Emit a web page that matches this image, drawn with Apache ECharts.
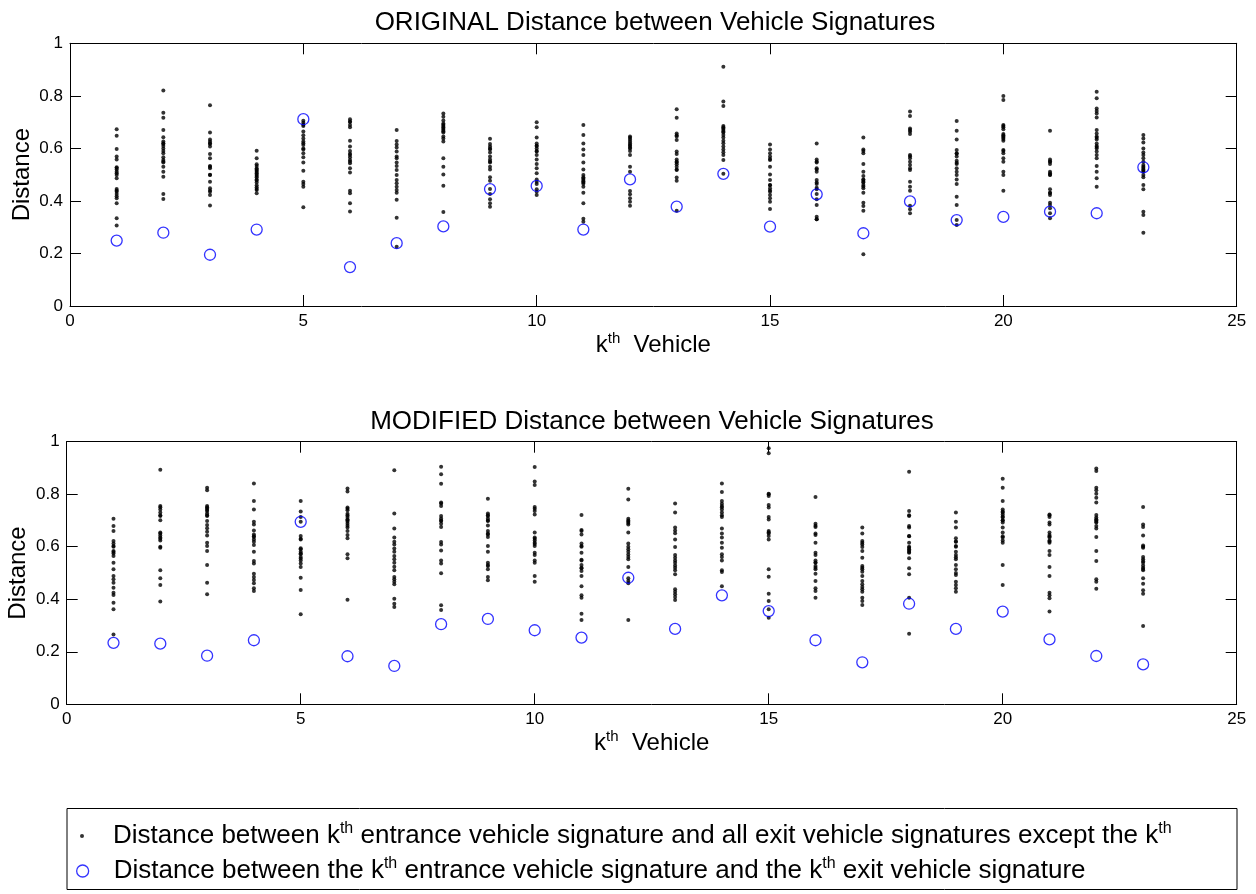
<!DOCTYPE html>
<html>
<head>
<meta charset="utf-8">
<script src="https://cdn.jsdelivr.net/npm/echarts@6/dist/echarts.min.js"></script>
<style>html,body{margin:0;padding:0;background:#fff}#c{width:1256px;height:894px}</style>
</head>
<body>
<div id="c"></div>
<script>
const vehicles = [1,2,3,4,5,6,7,8,9,10,11,12,13,14,15,16,17,18,19,20,21,22,23];
const xTicks = [0,5,10,15,20,25];
const yTicks = [0,0.2,0.4,0.6,0.8,1];

// ORIGINAL: distance between k-th entrance signature and the k-th exit signature
const origSelf = [0.249,0.279,0.195,0.291,0.711,0.148,0.239,0.303,0.445,0.457,0.291,0.482,0.378,0.503,0.302,0.425,0.277,0.398,0.327,0.339,0.359,0.353,0.528];
// ORIGINAL: distances to all other exit signatures
const origOthers = [
 [0.673,0.648,0.598,0.569,0.558,0.528,0.520,0.511,0.499,0.486,0.445,0.435,0.426,0.410,0.391,0.334,0.306,0.525,0.505,0.44,0.418],
 [0.820,0.736,0.717,0.670,0.642,0.626,0.617,0.609,0.600,0.581,0.566,0.556,0.546,0.530,0.511,0.492,0.426,0.407,0.62,0.59,0.55],
 [0.764,0.660,0.634,0.626,0.617,0.607,0.579,0.562,0.533,0.524,0.499,0.473,0.448,0.435,0.423,0.383,0.62,0.53,0.50,0.44],
 [0.591,0.562,0.533,0.524,0.515,0.505,0.495,0.482,0.470,0.452,0.442,0.429,0.51,0.50,0.49,0.46,0.54,0.445,0.52,0.478],
 [0.698,0.685,0.664,0.638,0.626,0.613,0.596,0.581,0.566,0.546,0.515,0.473,0.464,0.454,0.376,0.705,0.69,0.65,0.62,0.60],
 [0.711,0.702,0.689,0.680,0.629,0.607,0.590,0.575,0.566,0.556,0.543,0.524,0.508,0.439,0.429,0.391,0.360,0.70,0.58,0.55],
 [0.670,0.628,0.615,0.603,0.588,0.569,0.562,0.546,0.533,0.518,0.499,0.480,0.467,0.454,0.442,0.431,0.404,0.336,0.226],
 [0.733,0.706,0.695,0.680,0.670,0.660,0.638,0.626,0.562,0.530,0.501,0.458,0.358,0.685,0.675,0.665,0.645,0.72,0.69],
 [0.637,0.617,0.607,0.596,0.584,0.569,0.558,0.546,0.530,0.490,0.477,0.445,0.426,0.406,0.391,0.378,0.60,0.55,0.52],
 [0.699,0.680,0.641,0.619,0.609,0.600,0.588,0.575,0.558,0.541,0.524,0.505,0.482,0.473,0.464,0.444,0.435,0.423,0.61,0.59],
 [0.689,0.651,0.619,0.596,0.575,0.546,0.520,0.499,0.490,0.480,0.470,0.454,0.431,0.391,0.332,0.321,0.485,0.465,0.475],
 [0.645,0.634,0.626,0.613,0.603,0.590,0.575,0.530,0.511,0.438,0.425,0.410,0.397,0.382,0.62,0.60,0.64,0.61],
 [0.749,0.717,0.657,0.645,0.632,0.588,0.579,0.558,0.546,0.530,0.518,0.489,0.477,0.363,0.65,0.55,0.54,0.52],
 [0.911,0.778,0.761,0.685,0.676,0.664,0.651,0.641,0.629,0.607,0.596,0.575,0.556,0.503,0.67,0.66,0.62,0.585,0.68],
 [0.615,0.596,0.581,0.569,0.556,0.530,0.501,0.480,0.461,0.448,0.435,0.423,0.410,0.397,0.369,0.56,0.46,0.44],
 [0.619,0.558,0.546,0.524,0.511,0.480,0.464,0.444,0.426,0.406,0.384,0.340,0.330,0.55,0.52,0.47,0.45,0.33],
 [0.641,0.596,0.581,0.541,0.511,0.495,0.482,0.473,0.461,0.448,0.431,0.393,0.381,0.363,0.197,0.59,0.48,0.47,0.455],
 [0.740,0.723,0.676,0.664,0.655,0.575,0.562,0.549,0.537,0.524,0.518,0.473,0.454,0.439,0.382,0.368,0.353,0.67,0.57],
 [0.704,0.667,0.634,0.594,0.581,0.569,0.553,0.541,0.524,0.511,0.499,0.482,0.464,0.416,0.384,0.327,0.308,0.58,0.545],
 [0.799,0.784,0.689,0.680,0.673,0.655,0.645,0.636,0.629,0.594,0.581,0.562,0.549,0.511,0.499,0.439,0.685,0.65,0.64,0.59],
 [0.667,0.558,0.549,0.541,0.511,0.505,0.499,0.444,0.431,0.423,0.393,0.384,0.372,0.353,0.334,0.55,0.50,0.43],
 [0.816,0.791,0.752,0.742,0.733,0.718,0.670,0.657,0.645,0.634,0.619,0.609,0.600,0.588,0.575,0.562,0.533,0.511,0.486,0.454,0.64,0.605],
 [0.651,0.638,0.622,0.600,0.584,0.575,0.562,0.549,0.537,0.520,0.511,0.499,0.490,0.461,0.444,0.359,0.346,0.279,0.53,0.525,0.515]
];

// MODIFIED: distance between k-th entrance signature and the k-th exit signature
const modSelf = [0.234,0.231,0.185,0.244,0.695,0.183,0.146,0.305,0.325,0.282,0.254,0.482,0.287,0.415,0.355,0.244,0.160,0.383,0.287,0.353,0.247,0.184,0.152];
// MODIFIED: distances to all other exit signatures
const modOthers = [
 [0.707,0.679,0.660,0.622,0.612,0.603,0.584,0.574,0.565,0.539,0.514,0.489,0.476,0.463,0.444,0.425,0.416,0.387,0.362,0.266,0.60,0.58],
 [0.893,0.755,0.742,0.730,0.717,0.701,0.654,0.643,0.635,0.624,0.596,0.510,0.480,0.454,0.391,0.75,0.72,0.65,0.63,0.60],
 [0.825,0.815,0.755,0.746,0.736,0.727,0.717,0.698,0.683,0.670,0.657,0.643,0.615,0.603,0.584,0.530,0.463,0.419,0.75,0.74,0.72],
 [0.841,0.774,0.742,0.695,0.685,0.662,0.647,0.637,0.628,0.619,0.607,0.581,0.546,0.536,0.497,0.485,0.473,0.461,0.442,0.431,0.64],
 [0.774,0.734,0.713,0.695,0.641,0.628,0.594,0.581,0.571,0.561,0.548,0.536,0.523,0.482,0.435,0.343,0.63,0.59,0.575,0.555],
 [0.822,0.810,0.749,0.739,0.726,0.713,0.701,0.688,0.673,0.660,0.645,0.632,0.571,0.556,0.398,0.745,0.72,0.705,0.695,0.68],
 [0.891,0.727,0.669,0.635,0.619,0.609,0.593,0.581,0.565,0.552,0.539,0.524,0.510,0.485,0.476,0.467,0.457,0.402,0.383,0.371],
 [0.905,0.876,0.840,0.768,0.755,0.717,0.708,0.698,0.688,0.675,0.618,0.609,0.586,0.548,0.536,0.499,0.377,0.359,0.765,0.70],
 [0.783,0.727,0.717,0.708,0.698,0.681,0.660,0.647,0.637,0.603,0.581,0.539,0.527,0.514,0.485,0.472,0.72,0.70,0.65,0.53],
 [0.904,0.848,0.835,0.751,0.736,0.723,0.654,0.635,0.624,0.615,0.603,0.577,0.569,0.548,0.539,0.489,0.467,0.745,0.63,0.61],
 [0.721,0.664,0.647,0.612,0.603,0.577,0.548,0.530,0.518,0.508,0.489,0.450,0.415,0.406,0.345,0.321,0.66,0.60,0.55,0.52],
 [0.821,0.780,0.707,0.695,0.685,0.654,0.612,0.590,0.581,0.561,0.552,0.523,0.480,0.461,0.321,0.70,0.69,0.60,0.57,0.47],
 [0.765,0.730,0.673,0.662,0.651,0.628,0.599,0.569,0.558,0.548,0.539,0.529,0.520,0.510,0.495,0.438,0.429,0.419,0.409,0.397],
 [0.841,0.808,0.774,0.764,0.755,0.742,0.730,0.713,0.669,0.650,0.635,0.615,0.596,0.571,0.561,0.548,0.510,0.504,0.450,0.75,0.72],
 [0.975,0.956,0.802,0.793,0.759,0.749,0.713,0.704,0.660,0.650,0.641,0.628,0.514,0.486,0.421,0.393,0.362,0.330,0.655,0.80],
 [0.789,0.688,0.675,0.650,0.645,0.615,0.577,0.569,0.548,0.539,0.527,0.514,0.497,0.470,0.442,0.431,0.406,0.68,0.54,0.52],
 [0.673,0.650,0.622,0.609,0.599,0.584,0.558,0.527,0.514,0.505,0.489,0.470,0.457,0.447,0.438,0.429,0.406,0.393,0.378,0.615,0.52],
 [0.886,0.736,0.717,0.679,0.673,0.641,0.615,0.596,0.586,0.577,0.556,0.518,0.495,0.406,0.269,0.72,0.64,0.60,0.59,0.58],
 [0.730,0.695,0.673,0.632,0.619,0.603,0.581,0.569,0.552,0.530,0.514,0.492,0.467,0.454,0.442,0.429,0.62,0.60,0.56,0.50],
 [0.859,0.825,0.774,0.742,0.734,0.723,0.711,0.701,0.692,0.673,0.654,0.635,0.624,0.615,0.530,0.454,0.73,0.715,0.70,0.64],
 [0.723,0.713,0.692,0.685,0.654,0.645,0.635,0.624,0.615,0.584,0.569,0.523,0.489,0.425,0.415,0.404,0.353,0.72,0.64,0.62],
 [0.898,0.888,0.825,0.815,0.802,0.787,0.768,0.721,0.711,0.701,0.692,0.679,0.669,0.637,0.584,0.546,0.476,0.467,0.440,0.705,0.695],
 [0.751,0.685,0.675,0.643,0.605,0.596,0.561,0.552,0.539,0.529,0.520,0.510,0.480,0.459,0.434,0.421,0.298,0.60,0.545,0.515]
];

const TITLES = ['ORIGINAL Distance between Vehicle Signatures', 'MODIFIED Distance between Vehicle Signatures'];
const NAME_OTHERS = 'others';
const NAME_SELF = 'self';
const LEGEND_TEXT = {
  others: 'Distance between k{sup|th} entrance vehicle signature and all exit vehicle signatures except the k{sup|th}',
  self: 'Distance between the k{sup|th} entrance vehicle signature and the k{sup|th} exit vehicle signature'
};

const FONT = "'Liberation Sans', Arial, Helvetica, sans-serif";
const BLUE = '#0000ff';
const supRich = (size) => ({ sup: { fontSize: size, fontFamily: FONT, color: '#000', verticalAlign: 'top' } });

function othersData(arr) {
  const out = [];
  arr.forEach((col, i) => col.forEach(v => out.push([vehicles[i], v])));
  return out;
}
function selfData(arr) { return arr.map((v, i) => [vehicles[i], v]); }

const grids = [
  { left: 70, top: 43.3, width: 1166.7, height: 262.7 },
  { left: 66.7, top: 441.7, width: 1170, height: 262.6 }
];

const xAxes = [], yAxes = [];
grids.forEach((g, gi) => {
  const lineStyle = { color: '#000', width: 1 };
  const base = { gridIndex: gi, type: 'value', min: xTicks[0], max: xTicks[xTicks.length - 1], interval: xTicks[1] - xTicks[0],
    splitLine: { show: false }, axisLine: { show: true, onZero: false, lineStyle },
    axisTick: { show: true, inside: true, length: 11, lineStyle } };
  xAxes.push(Object.assign({}, base, {
    position: 'bottom',
    axisLabel: { show: true, color: '#000', fontSize: 17, fontFamily: FONT, margin: 7 },
    name: 'k{sup|th}  Vehicle', nameLocation: 'middle', nameGap: 25, nameMoveOverlap: false,
    nameTextStyle: { color: '#000', fontSize: 24, fontFamily: FONT, lineHeight: 28, rich: supRich(15) }
  }));
  xAxes.push(Object.assign({}, base, { position: 'top', axisLabel: { show: false } }));
  const ybase = { gridIndex: gi, type: 'value', min: yTicks[0], max: yTicks[yTicks.length - 1], interval: yTicks[1] - yTicks[0],
    splitLine: { show: false }, axisLine: { show: true, onZero: false, lineStyle },
    axisTick: { show: true, inside: true, length: 11, lineStyle } };
  yAxes.push(Object.assign({}, ybase, {
    position: 'left',
    axisLabel: { show: true, color: '#000', fontSize: 17, fontFamily: FONT, margin: 7 },
    name: 'Distance', nameLocation: 'middle', nameGap: 34, nameRotate: 90, nameMoveOverlap: false,
    nameTextStyle: { color: '#000', fontSize: 24, fontFamily: FONT, lineHeight: 28 }
  }));
  yAxes.push(Object.assign({}, ybase, { position: 'right', axisLabel: { show: false } }));
});

const series = [];
[[origOthers, origSelf], [modOthers, modSelf]].forEach(([others, self], gi) => {
  series.push({
    name: NAME_OTHERS, type: 'scatter', xAxisIndex: gi * 2, yAxisIndex: gi * 2,
    data: othersData(others), symbol: 'circle', symbolSize: 4,
    itemStyle: { color: '#000' }, silent: true, emphasis: { disabled: true }, z: 2
  });
  series.push({
    name: NAME_SELF, type: 'scatter', xAxisIndex: gi * 2, yAxisIndex: gi * 2,
    data: selfData(self), symbol: 'circle', symbolSize: 11,
    itemStyle: { color: 'rgba(0,0,0,0)', borderColor: BLUE, borderWidth: 1.3 },
    silent: true, emphasis: { disabled: true }, z: 3
  });
});

const legendText = (padLeft) => ({ color: '#000', fontSize: 26, fontFamily: FONT, lineHeight: 30, padding: [0, 0, 0, padLeft], rich: supRich(16) });
const option = {
  animation: false,
  backgroundColor: '#fff',
  textStyle: { fontFamily: FONT },
  title: [
    { text: TITLES[0], left: 655, textAlign: 'center', top: 8, padding: 0,
      textStyle: { color: '#000', fontSize: 26, fontWeight: 'normal', fontFamily: FONT, lineHeight: 30 } },
    { text: TITLES[1], left: 652, textAlign: 'center', top: 407, padding: 0,
      textStyle: { color: '#000', fontSize: 26, fontWeight: 'normal', fontFamily: FONT, lineHeight: 30 } }
  ],
  grid: grids.map(g => Object.assign({ containLabel: false, outerBoundsMode: 'none' }, g)),
  xAxis: xAxes,
  yAxis: yAxes,
  legend: [
    { data: [{ name: NAME_OTHERS, icon: 'circle', itemStyle: { color: '#000', borderWidth: 0 } }],
      orient: 'vertical', left: 80, top: 821, padding: 0, itemWidth: 4, itemHeight: 4, itemGap: 0,
      selectedMode: false, textStyle: legendText(24), formatter: n => LEGEND_TEXT[n] },
    { data: [{ name: NAME_SELF, icon: 'circle', itemStyle: { color: 'rgba(0,0,0,0)', borderColor: BLUE, borderWidth: 1.3 } }],
      orient: 'vertical', left: 76, top: 856, padding: 0, itemWidth: 12, itemHeight: 12, itemGap: 0,
      selectedMode: false, textStyle: legendText(20), formatter: n => LEGEND_TEXT[n] }
  ],
  graphic: [
    { type: 'rect', silent: true, z: -1, shape: { x: 67, y: 808.5, width: 1170, height: 81 },
      style: { fill: '#fff', stroke: '#000', lineWidth: 1 } }
  ],
  series
};

const chart = echarts.init(document.getElementById('c'), null, { renderer: 'canvas' });
chart.setOption(option);
</script>
</body>
</html>
